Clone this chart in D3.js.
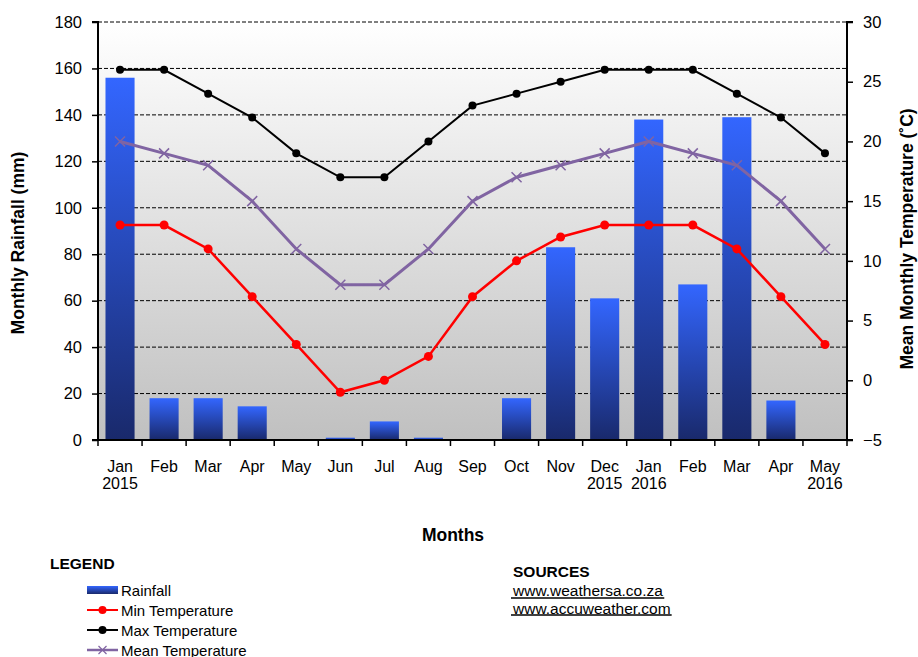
<!DOCTYPE html>
<html lang="en">
<head>
<meta charset="UTF-8">
<title>Rainfall and Temperature</title>
<style>
  body { margin: 0; background: #fff; }
  svg text { font-family: Arial, "Liberation Sans", sans-serif; fill: #000; }
</style>
</head>
<body>
<div id="chart"></div>
<script src="https://d3js.org/d3.v7.min.js"></script>
<script>
  // data
  const months = ['Jan', 'Feb', 'Mar', 'Apr', 'May', 'Jun', 'Jul', 'Aug', 'Sep', 'Oct', 'Nov',
                  'Dec', 'Jan', 'Feb', 'Mar', 'Apr', 'May']
  const years = ['2015', '', '', '', '', '', '', '', '', '', '', '2015', '2016', '', '', '', '2016']
  const rainfall = [156, 18, 18, 14.5, 0, 1, 8, 1, 0, 18, 83, 61, 138, 67, 139, 17, 0]
  const minTemp = [13, 13, 11, 7, 3, -1, 0, 2, 7, 10, 12, 13, 13, 13, 11, 7, 3]
  const maxTemp = [26, 26, 24, 22, 19, 17, 17, 20, 23, 24, 25, 26, 26, 26, 24, 22, 19]
  const meanTemp = [20, 19, 18, 15, 11, 8, 8, 11, 15, 17, 18, 19, 20, 19, 18, 15, 11]
  const rainTicks = [0, 20, 40, 60, 80, 100, 120, 140, 160, 180]
  const tempTicks = [-5, 0, 5, 10, 15, 20, 25, 30]

  const W = 918, H = 657
  const m = { top: 22, right: 71, bottom: 217, left: 98 }
  const w = W - m.left - m.right
  const h = H - m.top - m.bottom
  const keys = months.map((d, i) => i)

  const svg = d3.select('#chart').append('svg')
    .attr('width', W).attr('height', H)

  const defs = svg.append('defs')
  const bg = defs.append('linearGradient').attr('id', 'bg')
    .attr('x1', 0).attr('y1', 0).attr('x2', 0).attr('y2', 1)
  bg.append('stop').attr('offset', '0%').attr('stop-color', '#ffffff')
  bg.append('stop').attr('offset', '100%').attr('stop-color', '#c0c0c0')
  const barGrad = defs.append('linearGradient').attr('id', 'barGrad')
    .attr('x1', 0).attr('y1', 0).attr('x2', 0).attr('y2', 1)
  barGrad.append('stop').attr('offset', '0%').attr('stop-color', '#3366ff')
  barGrad.append('stop').attr('offset', '100%').attr('stop-color', '#19296b')

  const g = svg.append('g').attr('transform', `translate(${m.left},${m.top})`)

  const x = d3.scaleBand().domain(keys).range([0, w]).paddingInner(0.34).paddingOuter(0.17)
  const xc = i => x(i) + x.bandwidth() / 2
  const yL = d3.scaleLinear().domain([0, 180]).range([h, 0])
  const yR = d3.scaleLinear().domain([-5, 30]).range([h, 0])

  // plot background
  g.append('rect').attr('width', w).attr('height', h).attr('fill', 'url(#bg)')

  // grid
  g.selectAll('.grid').data(rainTicks.filter(d => d > 0)).enter()
    .append('line')
    .attr('x1', 0).attr('x2', w)
    .attr('y1', d => yL(d)).attr('y2', d => yL(d))
    .attr('stroke', '#000').attr('stroke-width', 1).attr('stroke-dasharray', '4,2')

  // bars
  g.selectAll('.bar').data(rainfall).enter()
    .append('rect')
    .attr('x', (d, i) => x(i))
    .attr('y', d => yL(d))
    .attr('width', x.bandwidth())
    .attr('height', d => h - yL(d))
    .attr('fill', 'url(#barGrad)')

  // lines
  const line = d3.line().x((d, i) => xc(i)).y(d => yR(d))
  g.append('path').datum(maxTemp).attr('d', line)
    .attr('fill', 'none').attr('stroke', '#000').attr('stroke-width', 2)
  g.selectAll('.maxDot').data(maxTemp).enter().append('circle')
    .attr('cx', (d, i) => xc(i)).attr('cy', d => yR(d)).attr('r', 4).attr('fill', '#000')

  g.append('path').datum(meanTemp).attr('d', line)
    .attr('fill', 'none').attr('stroke', '#8064a2').attr('stroke-width', 3)
  const xs = 5
  g.selectAll('.meanX').data(meanTemp).enter().append('path')
    .attr('d', (d, i) => {
      const cx = xc(i), cy = yR(d)
      return `M${cx - xs},${cy - xs}L${cx + xs},${cy + xs}M${cx - xs},${cy + xs}L${cx + xs},${cy - xs}`
    })
    .attr('stroke', '#8064a2').attr('stroke-width', 1.5).attr('fill', 'none')

  g.append('path').datum(minTemp).attr('d', line)
    .attr('fill', 'none').attr('stroke', '#ff0000').attr('stroke-width', 2.5)
  g.selectAll('.minDot').data(minTemp).enter().append('circle')
    .attr('cx', (d, i) => xc(i)).attr('cy', d => yR(d)).attr('r', 4.5).attr('fill', '#ff0000')

  // axes
  const axL = g.append('g').call(d3.axisLeft(yL).tickValues(rainTicks).tickSize(6).tickPadding(10))
  const axR = g.append('g').attr('transform', `translate(${w},0)`)
    .call(d3.axisRight(yR).tickValues(tempTicks).tickSize(6).tickPadding(10))
  ;[axL, axR].forEach(a => {
    a.selectAll('text').style('font-size', '16.5px')
    a.select('.domain').attr('stroke', '#000').attr('stroke-width', 2)
    a.selectAll('.tick line').attr('stroke-width', 1.5)
  })
  axL.select('.domain').attr('d', `M-6,0H0V${h}H-6`)
  axR.select('.domain').attr('d', `M6,0H0V${h}H6`)

  // x axis line and ticks at band edges
  const xa = g.append('g').attr('transform', `translate(0,${h})`)
  xa.append('line').attr('x1', 0).attr('x2', w).attr('stroke', '#000').attr('stroke-width', 2)
  xa.selectAll('.xt').data(d3.range(months.length + 1)).enter().append('line')
    .attr('x1', i => i * w / months.length).attr('x2', i => i * w / months.length)
    .attr('y1', 0).attr('y2', 6).attr('stroke', '#000').attr('stroke-width', 1.5)
  const lab = xa.selectAll('.xl').data(keys).enter().append('text')
    .attr('text-anchor', 'middle').style('font-size', '16px')
  lab.append('tspan').attr('x', i => xc(i)).attr('y', 32).text(i => months[i])
  lab.append('tspan').attr('x', i => xc(i)).attr('y', 49).text(i => years[i])

  // axis titles
  svg.append('text').attr('transform', `translate(24,243) rotate(-90)`)
    .attr('text-anchor', 'middle').style('font-size', '17.5px').style('font-weight', 'bold')
    .text('Monthly Rainfall (mm)')
  svg.append('text').attr('transform', `translate(913,239) rotate(-90)`)
    .attr('text-anchor', 'middle').style('font-size', '17.5px').style('font-weight', 'bold')
    .text('Mean Monthly Temperature (˚C)')
  svg.append('text').attr('x', 453).attr('y', 541)
    .attr('text-anchor', 'middle').style('font-size', '17.5px').style('font-weight', 'bold')
    .text('Months')

  // legend
  svg.append('text').attr('x', 50).attr('y', 569).style('font-size', '15.5px').style('font-weight', 'bold')
    .text('LEGEND')
  const legend = [
    { name: 'Rainfall', type: 'bar' },
    { name: 'Min Temperature', type: 'dot', color: '#ff0000' },
    { name: 'Max Temperature', type: 'dot', color: '#000' },
    { name: 'Mean Temperature', type: 'x', color: '#8064a2' }
  ]
  const li = svg.selectAll('.leg').data(legend).enter().append('g')
    .attr('transform', (d, i) => `translate(87,${590 + i * 20})`)
  li.each(function (d) {
    const s = d3.select(this)
    if (d.type === 'bar') {
      s.append('rect').attr('x', 0).attr('y', -4).attr('width', 31).attr('height', 8).attr('fill', 'url(#barGrad)')
    } else {
      s.append('line').attr('x1', 0).attr('x2', 31).attr('stroke', d.color).attr('stroke-width', d.type === 'x' ? 2.5 : 2)
      if (d.type === 'dot') {
        s.append('circle').attr('cx', 15.5).attr('r', 4).attr('fill', d.color)
      } else {
        s.append('path').attr('d', 'M11.5,-4L19.5,4M11.5,4L19.5,-4').attr('stroke', d.color).attr('stroke-width', 1.2)
      }
    }
    s.append('text').attr('x', 34).attr('y', 6).style('font-size', '15px').text(d.name)
  })

  // sources
  svg.append('text').attr('x', 513).attr('y', 577).style('font-size', '15.5px').style('font-weight', 'bold')
    .text('SOURCES')
  const sources = ['www.weathersa.co.za', 'www.accuweather.com']
  sources.forEach((s, i) => {
    const t = svg.append('text').attr('x', 513).attr('y', 596 + i * 17.5).style('font-size', '15.5px').text(s)
    const bb = t.node().getBBox()
    svg.append('line').attr('x1', 511).attr('x2', bb.x + bb.width + 1)
      .attr('y1', 598 + i * 17).attr('y2', 598 + i * 17)
      .attr('stroke', '#000').attr('stroke-width', 1.5)
  })
</script>
</body>
</html>
